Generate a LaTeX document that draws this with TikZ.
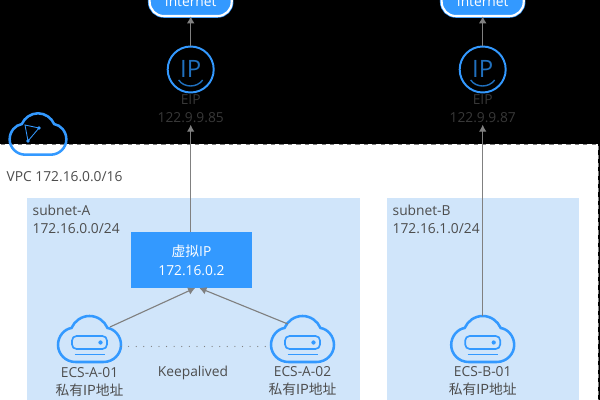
\documentclass[tikz,border=0pt]{standalone}
\usepackage{fontspec}
\setmainfont{Open Sans}
\newfontfamily\cjk{Noto Sans CJK SC}
\usetikzlibrary{arrows.meta}
\definecolor{iconBlue}{RGB}{51, 153, 255}
\definecolor{iconDim}{RGB}{32, 112, 190}
\definecolor{subnetBlue}{RGB}{208, 229, 250}
\definecolor{labelGray}{RGB}{77, 77, 77}
\definecolor{dimGray}{RGB}{56, 56, 56}
\definecolor{linkGray}{RGB}{128, 128, 128}
\tikzset{
  textlabel/.style={text=labelGray, font=\fontsize{9.8}{12.8}\selectfont, align=center, inner sep=1pt},
  eiplabel/.style={textlabel, text=dimGray},
  subnetlabel/.style={textlabel, align=left, anchor=north west},
  subnetbox/.style={draw=none, fill=subnetBlue},
  vipbox/.style={fill=iconBlue, text=white, font=\fontsize{9.8}{13.4}\selectfont, align=center, minimum width=3.025cm, minimum height=1.4cm, inner sep=0pt, outer sep=0pt},
  inetbox/.style={draw=iconBlue, double=white, double distance=1.5pt, line width=.5pt, fill=iconBlue, text=white, font=\fontsize{9.8}{12}\selectfont, rounded corners=10pt, minimum width=2.05cm, minimum height=1cm, inner sep=0pt},
  eipcircle/.style={circle, draw=iconBlue, line width=1.4pt, text=iconDim, font=\fontsize{17}{17}\selectfont, minimum size=1.15cm, inner sep=0pt, outer sep=0pt},
  cloudbox/.style={minimum width=1.575cm, minimum height=1.15cm, inner sep=0pt, outer sep=0pt},
  linkarrow/.style={-{Latex[length=5pt,width=5.5pt]}, linkGray, line width=.8pt},
  cloudicon/.pic={
    \draw[iconBlue, line width=1.8pt] (-14,23) -- (14,23) .. controls (24,23) and (31.5,15) .. (31.5,6)
      .. controls (31.5,-3) and (25,-10) .. (18,-11) .. controls (15,-18) and (8,-23) .. (0,-23)
      .. controls (-8,-23) and (-15,-18) .. (-18,-11) .. controls (-25,-10) and (-31.5,-3) .. (-31.5,6)
      .. controls (-31.5,15) and (-24,23) .. (-14,23) -- cycle;
  },
  ecsicon/.pic={
    \pic {cloudicon};
    \draw[iconBlue, line width=1.2pt, rounded corners=3.2pt] (-17.5,-3) rectangle (17.5,10);
    \fill[iconBlue] (11,3.5) circle (1.5pt);
    \draw[iconBlue, line width=.5pt] (-15,15) -- (15,15);
  },
}
\begin{document}
\begin{tikzpicture}[x=0.025cm, y=-0.025cm]
  \useasboundingbox (0,0) rectangle (600,400);
  \clip (0,0) rectangle (600,400);
  \fill[black] (0,0) rectangle (600,400);

  % VPC panel
  \draw[linkGray, dashed, line width=.5pt, fill=white] (-2,144) rectangle (598,404);
  \node[textlabel, anchor=west] (vpcname) at (5,177) {VPC 172.16.0.0/16};
  \pic[scale=0.9] at (38,134) {cloudicon};
  \draw[iconBlue, line width=.6pt] (25,125) -- (39,128) -- (28,141) -- cycle;
  \fill[iconBlue] (39,128) circle (1.4pt) (28,141) circle (1.4pt);

  % Subnets
  \fill[subnetbox] (27,198) rectangle (360,404);
  \fill[subnetbox] (387,198) rectangle (579,404);
  \node[subnetlabel] (subnetA) at (31,203) {subnet-A\\172.16.0.0/24};
  \node[subnetlabel] (subnetB) at (391,203) {subnet-B\\172.16.1.0/24};

  % Internet
  \node[inetbox] (inetA) at (190.7,-4) {\raisebox{-1.55em}{Internet}};
  \node[inetbox] (inetB) at (482.7,-4) {\raisebox{-1.55em}{Internet}};

  % EIP
  \node[eipcircle] (eipA) at (190.7,69.5) {\raisebox{1pt}{IP}};
  \node[eipcircle] (eipB) at (482.7,69.5) {\raisebox{1pt}{IP}};
  \draw[iconDim, line width=1pt] (178.7,80) .. controls (184,88) and (197,88) .. (202.7,80);
  \draw[iconDim, line width=1pt] (470.7,80) .. controls (476,88) and (489,88) .. (494.7,80);
  \node[eiplabel] (addrA) at (190.7,109) {EIP\\122.9.9.85};
  \node[eiplabel] (addrB) at (482.7,109) {EIP\\122.9.9.87};

  % Virtual IP
  \node[vipbox] (vip) at (191.5,260) {{\cjk 虚拟}IP\\172.16.0.2};

  % ECS
  \node[cloudbox] (ecsA1) at (89.5,339) {};
  \node[cloudbox] (ecsA2) at (302.5,339) {};
  \node[cloudbox] (ecsB1) at (482.7,339) {};
  \pic at (ecsA1) {ecsicon};
  \pic at (ecsA2) {ecsicon};
  \pic at (ecsB1) {ecsicon};
  \node[textlabel] (nameA1) at (89.5,382) {ECS-A-01\\{\cjk 私有IP地址}};
  \node[textlabel] (nameA2) at (302.5,381) {ECS-A-02\\{\cjk 私有IP地址}};
  \node[textlabel] (nameB1) at (482.7,381) {ECS-B-01\\{\cjk 私有IP地址}};
  \node[textlabel] (keep) at (193,373) {Keepalived};

  % Arrows
  \draw[linkarrow] (eipA) -- (inetA);
  \draw[linkarrow] (eipB) -- (inetB);
  \draw[linkarrow] (vip.north -| addrA) -- (addrA);
  \draw[linkarrow] (ecsB1.north) -- (addrB);
  \draw[linkarrow] ([xshift=-7.8pt,yshift=-7.8pt]ecsA1.north east) -- ([xshift=2.6pt]vip.south);
  \draw[linkarrow] ([xshift=12pt,yshift=-5.7pt]ecsA2.north west) -- ([xshift=5.6pt]vip.south);
  \draw[linkGray, line width=.9pt, line cap=round, dash pattern=on 0pt off 5.4pt] ([yshift=-5.3pt]ecsA1.east) -- ([yshift=-5.3pt]ecsA2.west);
\end{tikzpicture}
\end{document}
